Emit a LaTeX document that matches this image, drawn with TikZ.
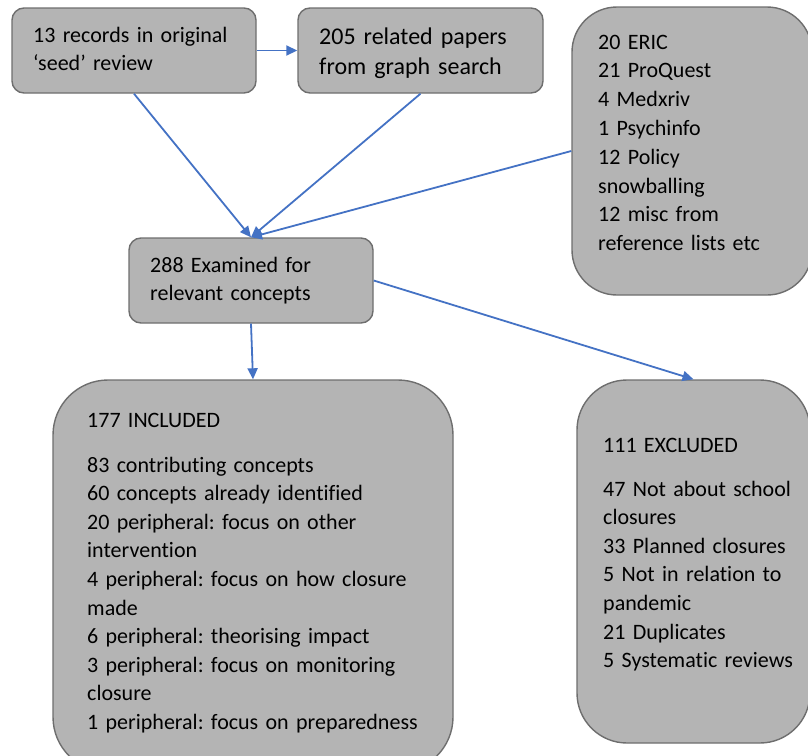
\documentclass[tikz,border=0pt]{standalone}
\usepackage{fontspec}
\setmainfont{Carlito}[Ligatures={TeX,NoCommon}]
\usetikzlibrary{arrows.meta}
\definecolor{boxfill}{RGB}{180,180,180}
\definecolor{boxline}{RGB}{110,110,110}
\definecolor{arrowblue}{RGB}{68,114,196}
\begin{document}
\frenchspacing
\begin{tikzpicture}[x=1pt,y=-1pt,
  box/.style={draw=boxline, fill=boxfill, line width=1.4pt, inner sep=0pt, rectangle},
  txt/.style={anchor=base west, inner sep=0pt, align=left, text width=#1},
  txt/.default=300pt,
  norm/.style={font=\fontsize{22}{28.6}\selectfont\frenchspacing},
  big/.style={font=\fontsize{24}{30}\selectfont\frenchspacing},
  flow/.style={draw=arrowblue, line width=1.8pt, -{Triangle[length=11pt,width=10pt]}}
]
\useasboundingbox (0,0) rectangle (808,755);
\clip (0,0) rectangle (808,755);
% boxes
\node[box, rounded corners=12pt, minimum width=244pt, minimum height=85pt] (A) at (134,50.5) {};
\node[box, rounded corners=12pt, minimum width=245pt, minimum height=85pt] (B) at (420.5,50.5) {};
\node[box, rounded corners=45pt, minimum width=240pt, minimum height=288pt] (C) at (692,151) {};
\node[box, rounded corners=12pt, minimum width=244pt, minimum height=85pt] (D) at (251,280.5) {};
\node[box, rounded corners=55pt, minimum width=400pt, minimum height=392pt] (E) at (253,576) {};
\node[box, rounded corners=50pt, minimum width=233pt, minimum height=363pt] (F) at (693.5,561.5) {};
% texts
\node[txt, norm] (At) at (33,42) {13 records in original\\‘seed’ review};
\node[txt, big] (Bt) at (319,44) {205 related papers\\from graph search};
\node[txt=210pt, font=\fontsize{22}{28.8}\selectfont\frenchspacing] (Ct) at (598,49) {20 ERIC\\21 ProQuest\\4 Medxriv\\1 Psychinfo\\12 Policy\\snowballing\\12 misc from\\reference lists etc};
\node[txt, norm] (Dt) at (150,272) {288 Examined for\\relevant concepts};
\node[txt=360pt, norm] (Et) at (87,427) {177 INCLUDED\\[16.4pt]83 contributing concepts\\60 concepts already identified\\20 peripheral: focus on other\\intervention\\4 peripheral: focus on how closure\\made\\6 peripheral: theorising impact\\3 peripheral: focus on monitoring\\closure\\1 peripheral: focus on preparedness};
\node[txt=205pt, norm] (Ft) at (603,452) {111 EXCLUDED\\[15.4pt]47 Not about school\\closures\\33 Planned closures\\5 Not in relation to\\pandemic\\21 Duplicates\\5 Systematic reviews};
% connectors
\draw[flow] (A.east) -- (B.west);
\draw[flow] (A.south) -- (D.north);
\draw[flow] (B.south) -- (D.north);
\draw[flow] (C.west) -- (D.north);
\draw[flow] (D.south) -- (E.north);
\draw[flow] (D.east) -- (F.north);
\end{tikzpicture}
\end{document}
